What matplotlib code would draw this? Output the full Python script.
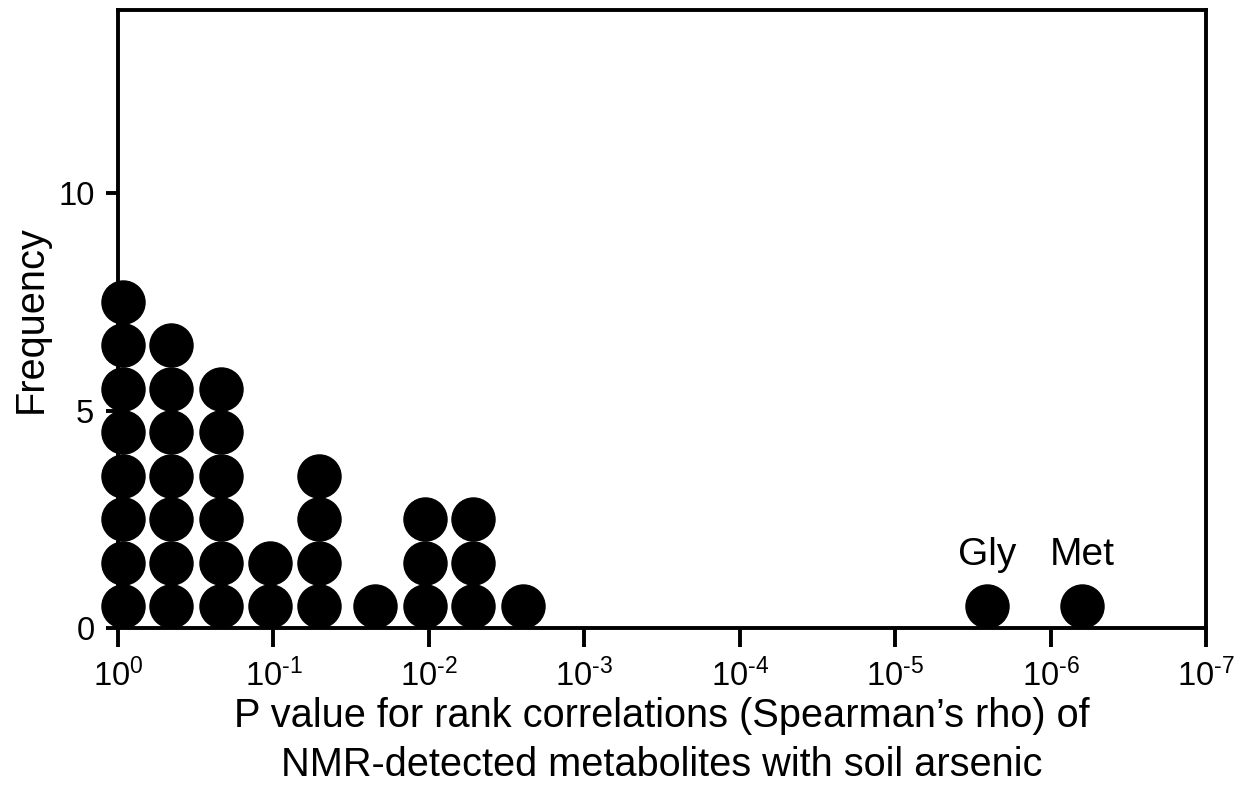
import numpy as np
import matplotlib
matplotlib.use("Agg")
from matplotlib import pyplot as plt

plt.rcParams['font.family'] = ['Liberation Sans', 'DejaVu Sans']
plt.rcParams['mathtext.fontset'] = 'custom'
plt.rcParams['mathtext.rm'] = 'Liberation Sans'
plt.rcParams['mathtext.it'] = 'Liberation Sans'
plt.rcParams['mathtext.default'] = 'regular'
plt.rcParams['axes.unicode_minus'] = False

# column positions in -log10(P), and number of metabolites stacked in each
col_pos = [0.03, 0.34, 0.66, 0.98, 1.29, 1.655, 1.975, 2.285, 2.605, 5.59, 6.20]
col_count = [8, 7, 6, 2, 4, 1, 3, 3, 1, 1, 1]
named = {"Gly": 5.59, "Met": 6.20}
xtick_exp = ["0", "-1", "-2", "-3", "-4", "-5", "-6", "-7"]
yticks = [0, 5, 10]

xs, ys = [], []
for p, n in zip(col_pos, col_count):
    for i in range(n):
        xs.append(p)
        ys.append(i + 0.5)

fig = plt.figure(figsize=(12.5, 7.96), dpi=100)
ax = fig.add_axes([0.0944, 0.211, 0.8706, 0.776])
ax.plot(xs, ys, 'o', color='black', markersize=31, clip_on=False, zorder=3)

for name, p in named.items():
    ax.text(p, 1.45, name, ha='center', va='baseline', fontsize=28)

ax.set_xlim(0, 7)
ax.set_ylim(0, 14.2)
ax.set_xticks(range(8))
ax.set_xticklabels([r"$10^{\text{%s}}$" % e for e in xtick_exp], fontsize=23.5)
ax.set_yticks(yticks)
ax.set_yticklabels([str(t) for t in yticks], fontsize=23.5)
for s in ax.spines.values():
    s.set_linewidth(2.8)
ax.tick_params(axis='x', length=14, width=2.8, pad=8)
ax.tick_params(axis='y', length=9, width=2.8, pad=8)

ax.set_ylabel("Frequency", fontsize=28.6, labelpad=6)
ax.set_xlabel("P value for rank correlations (Spearman\u2019s rho) of\nNMR-detected metabolites with soil arsenic",
              fontsize=28.6, labelpad=3, linespacing=1.36)

fig.savefig("out.png", dpi=100)
